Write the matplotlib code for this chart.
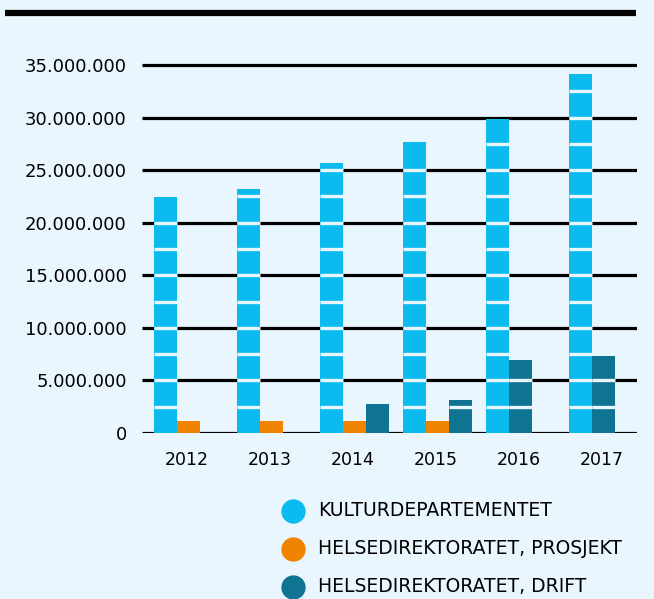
import matplotlib
matplotlib.use("Agg")
import matplotlib.pyplot as plt
from matplotlib.lines import Line2D
import numpy as np

years = ["2012", "2013", "2014", "2015", "2016", "2017"]
series_names = ["KULTURDEPARTEMENTET", "HELSEDIREKTORATET, PROSJEKT", "HELSEDIREKTORATET, DRIFT"]
kultur = [22.4e6, 23.2e6, 25.7e6, 27.7e6, 29.9e6, 34.1e6]
helse_prosjekt = [1.15e6, 1.15e6, 1.15e6, 1.15e6, 0, 0]
helse_drift = [0, 0, 2.75e6, 3.15e6, 6.95e6, 7.35e6]
colors = ["#0BBAEF", "#F08300", "#0E7492"]
yticks = [0, 5e6, 10e6, 15e6, 20e6, 25e6, 30e6, 35e6]

BG = "#EAF6FE"
W, H = 654, 599
fig = plt.figure(figsize=(W / 100, H / 100), dpi=100, facecolor=BG)
plt.rcParams["font.family"] = ["DejaVu Sans"]

ax_left, ax_right = 142, 637
ax_bottom_px, ax_top_px = 433, 54.5
ax = fig.add_axes([ax_left / W, (H - ax_bottom_px) / H,
                   (ax_right - ax_left) / W, (ax_bottom_px - ax_top_px) / H])
ax.set_facecolor(BG)
ax.set_ylim(0, 36e6)
ax.set_xlim(-0.542, 5.42)
for s in ax.spines.values():
    s.set_visible(False)

for t in yticks:
    ax.axhline(t, color="black", lw=2.3, zorder=1, solid_capstyle="butt")

bw = 0.277
data = [kultur, helse_prosjekt, helse_drift]
for i in range(len(years)):
    present = [k for k in range(3) if data[k][i] > 0]
    start = i - 1.5 * bw + 0.02
    for slot, k in enumerate(present):
        v = data[k][i]
        x0 = start + slot * bw
        ax.bar(x0, v, width=bw, align="edge", color=colors[k], zorder=2, linewidth=0)
        stripes = np.arange(2.5e6, v - 0.5e6, 2.5e6)
        if len(stripes):
            ax.hlines(stripes, x0, x0 + bw, colors=BG, lw=2.4, zorder=3)

ax.set_yticks(yticks)
ax.set_yticklabels([f"{int(t):,}".replace(",", ".") for t in yticks], fontsize=13)
ax.tick_params(axis="y", length=0, pad=11)
ax.set_xticks(range(len(years)))
ax.set_xticklabels(years, fontsize=12.5)
ax.tick_params(axis="x", length=0, pad=13)

fig.add_artist(Line2D([5 / W, 636 / W], [1 - 13 / H, 1 - 13 / H], color="black", lw=4.5,
                      transform=fig.transFigure, solid_capstyle="butt"))

leg_y = [511, 549, 587]
for name, c, yy in zip(series_names, colors, leg_y):
    fig.add_artist(Line2D([293 / W], [1 - yy / H], marker="o", markersize=16.5, color=c,
                          linestyle="none", transform=fig.transFigure))
    fig.text(318 / W, 1 - yy / H, name, fontsize=13.5, va="center", ha="left")

fig.savefig("out.png", dpi=100, facecolor=BG)
